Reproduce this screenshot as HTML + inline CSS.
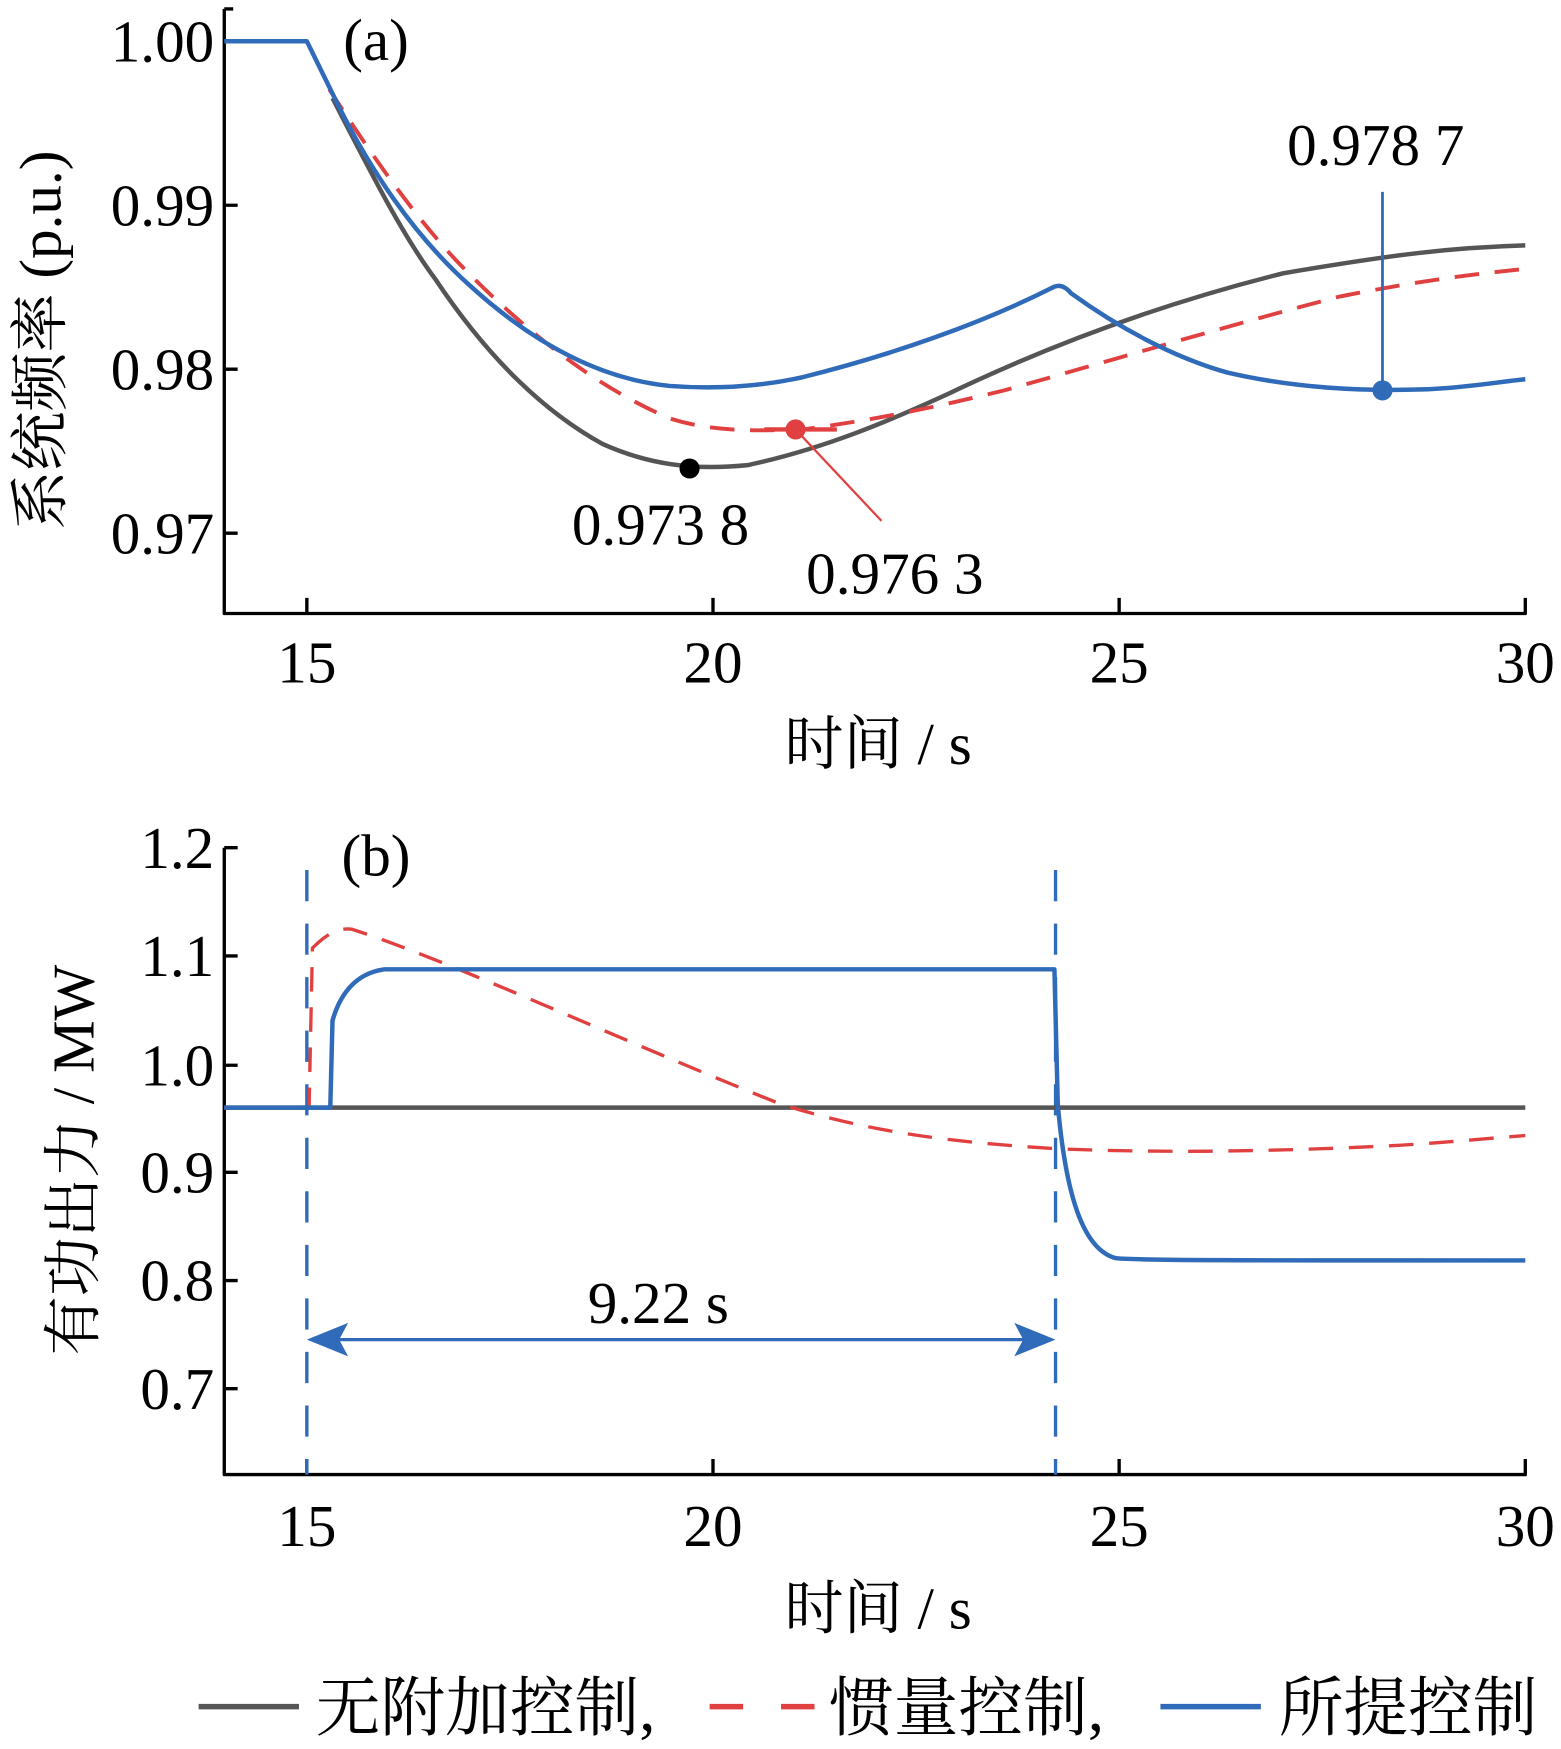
<!DOCTYPE html>
<html><head><meta charset="utf-8"><style>html,body{margin:0;padding:0;background:#fff}svg{display:block}</style></head><body>
<svg width="1561" height="1749" viewBox="0 0 1399 1568" preserveAspectRatio="none" xmlns="http://www.w3.org/2000/svg" font-family="'Liberation Serif','Noto Serif CJK SC',serif">
<g fill="none" stroke-linejoin="round" stroke-linecap="butt">
<path d="M201,8 V550 H1367 V536" stroke="#000" stroke-width="3"/>
<path d="M275,550 v-14 M639,550 v-14 M1003,550 v-14 M201,37 h12 M201,184 h12 M201,331 h12 M201,478 h12 M201,8 h8" stroke="#000" stroke-width="3"/>
<path d="M298,88 C330,150 360,210 390,250 C430,310 480,365 540,398 C580,416 620,422 670,417 C740,402 800,376 850,353 C950,305 1050,270 1150,245 C1250,228 1300,222 1367,220" stroke="#555" stroke-width="4"/>
<path d="M295,80 C340,150 380,205 420,245 C470,295 530,345 600,375 C640,388 680,386 720,385 C800,374 850,362 900,350 C1000,322 1100,292 1200,266 C1280,250 1330,245 1367,241" stroke="#e04040" stroke-width="3.5" stroke-dasharray="22,14"/>
<path d="M201,37 H275 L300,88 C330,150 370,210 420,255 C480,310 540,340 600,346 C640,349 680,347 720,338 C800,318 880,290 945,257 C950,255 955,257 960,263 C1000,292 1050,320 1100,334 C1160,348 1220,351 1280,349 C1320,347 1345,342 1367,340" stroke="#2f6bb8" stroke-width="4"/>
<circle cx="618" cy="420" r="9" fill="#000"/>
<path d="M685,385 H750" stroke="#e04040" stroke-width="4"/>
<path d="M713,385 L790,467" stroke="#e04040" stroke-width="2"/>
<circle cx="713" cy="385" r="9" fill="#e04040"/>
<path d="M1239,172 V350" stroke="#2f6bb8" stroke-width="2.5"/>
<circle cx="1239" cy="350" r="9" fill="#2f6bb8"/>
<path d="M201,760 V1322 H1367 V1308" stroke="#000" stroke-width="3"/>
<path d="M275,1322 v-14 M639,1322 v-14 M1003,1322 v-14 M201,760 h12 M201,857 h12 M201,955 h12 M201,1051 h12 M201,1148 h12 M201,1245 h12" stroke="#000" stroke-width="3"/>
<path d="M275,780 V1322 M946,780 V1322" stroke="#2f6bb8" stroke-width="3" stroke-dasharray="28,20"/>
<path d="M201,993 H1367" stroke="#555" stroke-width="4"/>
<path d="M201,993 H277 L280,850 C295,835 305,832 315,833 C400,860 550,930 700,990 C780,1015 850,1024 950,1030 C1050,1034 1150,1032 1250,1027 C1300,1024 1340,1020 1367,1018" stroke="#e04040" stroke-width="3" stroke-dasharray="22,14"/>
<path d="M201,993 H296 L298,915 C305,890 320,872 345,869 H945 L948,990 C955,1070 970,1120 1000,1128 C1020,1130 1100,1130 1367,1130" stroke="#2f6bb8" stroke-width="4"/>
<path d="M295,1201 H926" stroke="#2f6bb8" stroke-width="3"/>
<path d="M275,1201 L312,1186 L304,1201 L312,1216 Z M946,1201 L909,1186 L917,1201 L909,1216 Z" fill="#2f6bb8"/>
<path d="M178,1530 H268" stroke="#555" stroke-width="5"/>
<path d="M636,1530 H666 M700,1530 H730" stroke="#e04040" stroke-width="5"/>
<path d="M1040,1530 H1130" stroke="#2f6bb8" stroke-width="5"/>
</g>
<g fill="#000" font-size="53">
<g text-anchor="end">
<text x="192" y="55">1.00</text><text x="192" y="202">0.99</text><text x="192" y="349">0.98</text><text x="192" y="496">0.97</text>
<text x="192" y="778">1.2</text><text x="192" y="875">1.1</text><text x="192" y="973">1.0</text><text x="192" y="1069">0.9</text><text x="192" y="1166">0.8</text><text x="192" y="1263">0.7</text>
</g>
<g text-anchor="middle">
<text x="275" y="612">15</text><text x="639" y="612">20</text><text x="1003" y="612">25</text><text x="1367" y="612">30</text>
<text x="275" y="1386">15</text><text x="639" y="1386">20</text><text x="1003" y="1386">25</text><text x="1367" y="1386">30</text>
<text x="787" y="685">时间 / s</text>
<text x="787" y="1460">时间 / s</text>
<text x="592" y="488">0.973 8</text>
<text x="802" y="532">0.976 3</text>
<text x="1233" y="148">0.978 7</text>
<text x="590" y="1186">9.22 s</text>
<text x="337" y="54">(a)</text>
<text x="337" y="785">(b)</text>
<text transform="translate(54,305) rotate(-90)">系统频率 (p.u.)</text>
<text transform="translate(84,1040) rotate(-90)">有功出力 / MW</text>
</g>
<g font-size="58">
<text x="283" y="1551">无附加控制,</text>
<text x="743" y="1551">惯量控制,</text>
<text x="1146" y="1551">所提控制</text>
</g>
</g>
</svg>
</body></html>
